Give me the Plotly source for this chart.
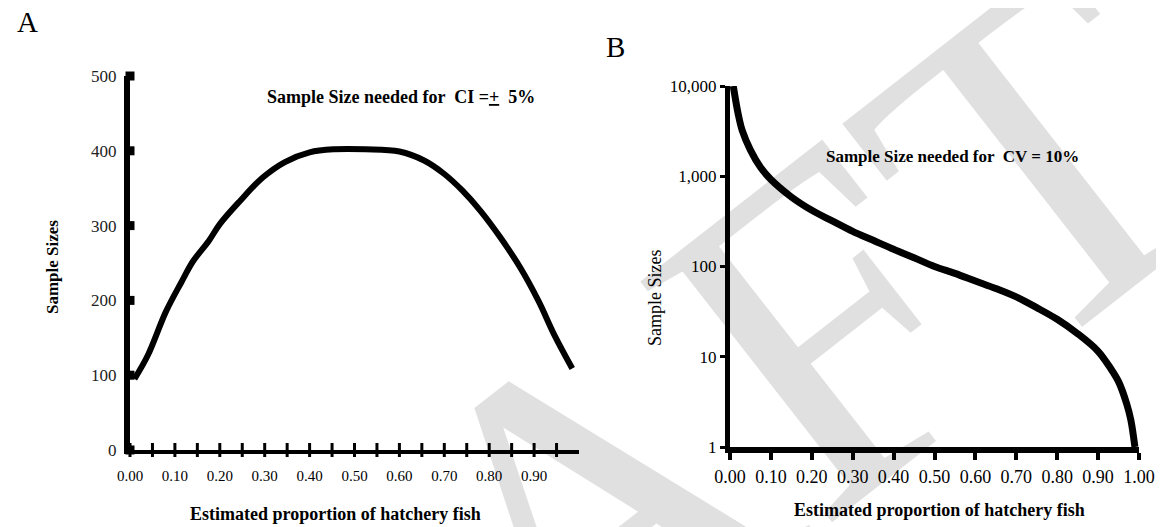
import plotly.graph_objects as go

# page body has an 8px margin; the figure fills the rest of the 1164x527 window
OFF = 8
W, H = 1164 - OFF, 527 - OFF

# ---------------- data ----------------
# Panel A: sample size for CI = +/- 5%
pA = [0.01, 0.04, 0.08, 0.115, 0.14, 0.175, 0.20, 0.245, 0.295, 0.345, 0.40,
      0.455, 0.525, 0.60, 0.655, 0.70, 0.74, 0.78, 0.825, 0.87, 0.91, 0.945, 0.985]
nA = [95, 127, 185, 225, 252, 279, 302, 333, 364, 385, 398,
      402, 402, 399, 387, 369, 347, 320, 284, 243, 199, 154, 109]

# Panel B: sample size for CV = 10%
pB = [0.008, 0.02, 0.03, 0.05, 0.075, 0.10, 0.15, 0.20, 0.25, 0.30, 0.35, 0.40,
      0.45, 0.50, 0.55, 0.60, 0.65, 0.70, 0.75, 0.80, 0.85, 0.90, 0.93, 0.95,
      0.97, 0.98, 0.99]
nB = [10000, 4900, 3200, 1950, 1250, 920, 590, 420, 320, 245, 195, 155,
      125, 100, 84, 69, 57, 46, 35, 26, 18, 11.5, 7.5, 5.3,
      3.0, 2.0, 1.0]

A_xticks = [round(0.05 * i, 2) for i in range(20)]
A_xlabels = [f"{v:.2f}" if i % 2 == 0 else "" for i, v in enumerate(A_xticks)]
A_yticks = [0, 100, 200, 300, 400, 500]

B_xticks = [round(0.1 * i, 1) for i in range(11)]
B_xlabels = [f"{v:.2f}" for v in B_xticks]
B_yticks = [1, 10, 100, 1000, 10000]
B_ylabels = ["1", "10", "100", "1,000", "10,000"]

titleA = "Sample Size needed for  CI =<u>+</u>  5%"
titleB = "Sample Size needed for  CV = 10%"
xtitle = "Estimated proportion of hatchery fish"
ytitle = "Sample Sizes"
watermark = "DRAFT"

SERIF = "Liberation Serif"

def px_x(x):
    return (x - OFF) / W

def px_y(y):
    return 1 - (y - OFF) / H

fig = go.Figure()

# Panel A curve
fig.add_trace(go.Scatter(x=pA, y=nA, mode="lines", line=dict(color="black", width=6, shape="spline"),
                         xaxis="x", yaxis="y", showlegend=False, hoverinfo="skip",
                         cliponaxis=False))
# Panel A tick marks crossing the axes
fig.add_trace(go.Scatter(x=A_xticks, y=[0] * len(A_xticks), mode="markers",
                         marker=dict(symbol="line-ns", size=10, line=dict(color="black", width=3)),
                         xaxis="x", yaxis="y", showlegend=False, hoverinfo="skip", cliponaxis=False))
fig.add_trace(go.Scatter(x=[0] * len(A_yticks), y=A_yticks, mode="markers",
                         marker=dict(symbol="square", size=9, color="black"),
                         xaxis="x", yaxis="y", showlegend=False, hoverinfo="skip", cliponaxis=False))

# Panel B curve
fig.add_trace(go.Scatter(x=pB, y=nB, mode="lines", line=dict(color="black", width=7, shape="spline"),
                         xaxis="x2", yaxis="y2", showlegend=False, hoverinfo="skip",
                         cliponaxis=False))

fig.update_layout(
    width=W, height=H,
    margin=dict(l=0, r=0, t=0, b=0, autoexpand=False),
    paper_bgcolor="white", plot_bgcolor="white",
    xaxis=dict(domain=[px_x(130), px_x(579)], range=[0, 1], showgrid=False, zeroline=False,
               showline=True, linewidth=4, linecolor="black",
               tickmode="array", tickvals=A_xticks, ticktext=A_xlabels, ticks="",
               ticklabelstandoff=9, tickfont=dict(family=SERIF, size=15, color="black"),
               anchor="y", automargin=False),
    yaxis=dict(domain=[px_y(450), px_y(76)], range=[0, 500], showgrid=False, zeroline=False,
               showline=True, linewidth=6, linecolor="black",
               tickmode="array", tickvals=A_yticks, ticks="",
               ticklabelstandoff=4, tickfont=dict(family=SERIF, size=17, color="#222"),
               anchor="x", automargin=False),
    xaxis2=dict(domain=[px_x(730), px_x(1139)], range=[0, 1], showgrid=False, zeroline=False,
                showline=True, linewidth=6, linecolor="black",
                tickmode="array", tickvals=B_xticks, ticktext=B_xlabels, ticks="outside",
                ticklen=7, tickwidth=4, tickcolor="black", ticklabelstandoff=1,
                tickfont=dict(family=SERIF, size=18, color="black"), anchor="y2",
                automargin=False),
    yaxis2=dict(domain=[px_y(447), px_y(86)], type="log", range=[0, 4], showgrid=False,
                zeroline=False, showline=True, linewidth=5, linecolor="black",
                tickmode="array", tickvals=B_yticks, ticktext=B_ylabels, ticks="outside",
                ticklen=5, tickwidth=3, tickcolor="black", ticklabelstandoff=0,
                tickfont=dict(family=SERIF, size=17, color="black"), anchor="x2",
                automargin=False),
)

ann = []
# watermark (semi-transparent so the black marks stay black underneath)
ann.append(dict(text=watermark, x=px_x(546), y=px_y(544), xref="paper", yref="paper",
                showarrow=False, textangle=-38,
                font=dict(family=SERIF, size=470, color="rgba(0,0,0,0.12)"),
                xanchor="center", yanchor="middle"))
# panel letters
ann.append(dict(text="A", x=px_x(27), y=px_y(22), xref="paper", yref="paper", showarrow=False,
                font=dict(family=SERIF, size=29, color="black"), xanchor="center", yanchor="middle"))
ann.append(dict(text="B", x=px_x(615), y=px_y(47), xref="paper", yref="paper", showarrow=False,
                font=dict(family=SERIF, size=29, color="black"), xanchor="center", yanchor="middle"))
# inner titles
ann.append(dict(text=f"<b>{titleA}</b>", x=px_x(401), y=px_y(97), xref="paper", yref="paper",
                showarrow=False, font=dict(family=SERIF, size=18, color="black"),
                xanchor="center", yanchor="middle"))
ann.append(dict(text=f"<b>{titleB}</b>", x=px_x(952), y=px_y(157), xref="paper", yref="paper",
                showarrow=False, font=dict(family=SERIF, size=17, color="black"),
                xanchor="center", yanchor="middle"))
# axis titles
ann.append(dict(text=f"<b>{xtitle}</b>", x=px_x(335), y=px_y(514), xref="paper", yref="paper",
                showarrow=False, font=dict(family=SERIF, size=18, color="black"),
                xanchor="center", yanchor="middle"))
ann.append(dict(text=f"<b>{xtitle}</b>", x=px_x(939), y=px_y(510), xref="paper", yref="paper",
                showarrow=False, font=dict(family=SERIF, size=18, color="black"),
                xanchor="center", yanchor="middle"))
ann.append(dict(text=f"<b>{ytitle}</b>", x=px_x(52), y=px_y(267), xref="paper", yref="paper",
                showarrow=False, textangle=-90, font=dict(family=SERIF, size=17, color="black"),
                xanchor="center", yanchor="middle"))
ann.append(dict(text=ytitle, x=px_x(655), y=px_y(298), xref="paper", yref="paper",
                showarrow=False, textangle=-90, font=dict(family=SERIF, size=18, color="black"),
                xanchor="center", yanchor="middle"))

fig.update_layout(annotations=ann)
fig.write_html("out.html")
